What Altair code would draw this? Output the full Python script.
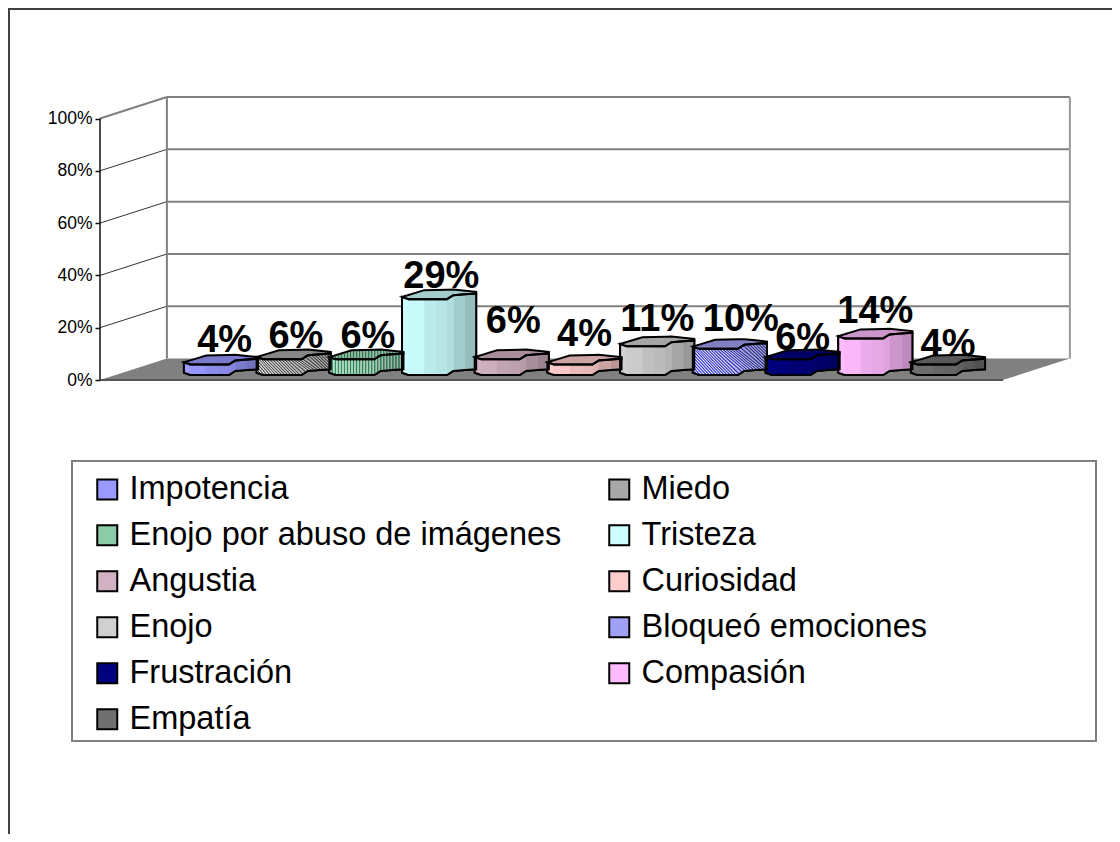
import altair as alt
import numpy as np
import pandas as pd

categories = ["Impotencia", "Miedo", "Enojo por abuso de imágenes", "Tristeza", "Angustia",
              "Curiosidad", "Enojo", "Bloqueó emociones", "Frustración", "Compasión", "Empatía"]
values = [4, 6, 6, 29, 6, 4, 11, 10, 6, 14, 4]
colors = ["#9999FF", "#A8A8A8", "#8CCBA8", "#CCFFFF", "#D2B2C2", "#FFCCCC",
          "#D0D0D0", "#A0A0F4", "#000080", "#FFBBFF", "#707070"]
y_ticks = [0, 20, 40, 60, 80, 100]
label_lift = [6.7, 6.2, 6.2, 6.2, 12.0, 8.9, 7.9, 8.9, 5.5, 7.7, 5.2]
label_shift = [0.05, 0.03, 0.02, 0.03, 0.02, 0, 0, 0.15, 0, 0, 0]
diagonal_hatch = {"Miedo": ("#F2F2F2", "#4A4A4A"), "Bloqueó emociones": ("#F0F0FF", "#2A2AD8")}
vertical_hatch = {"Enojo por abuso de imágenes": ("#D8F8E4", "#2F8A60")}

FONT = "Liberation Sans"
PAD_LEFT = 92
W, H = 1104 - PAD_LEFT, 826
X_STEP, X_FIRST = 72.7, 221.0
Y_UNIT, Y_ZERO = 2.615, 380.0
def cx(px): return (px - X_FIRST) / X_STEP
def vy(py): return (Y_ZERO - py) / Y_UNIT
x_scale = alt.Scale(domain=[cx(100), cx(100 + W)], nice=False, zero=False)
y_scale = alt.Scale(domain=[vy(8 + H), vy(8)], nice=False, zero=False)
X = lambda f="x": alt.X(f"{f}:Q", scale=x_scale, axis=None)
Y = lambda f="y": alt.Y(f"{f}:Q", scale=y_scale, title=None)

# 3-D box geometry, in scale units
DEPTH_X, DEPTH_Y = 0.92, 8.2
LEFT, RIGHT = cx(100), cx(1003)
BACK_L, BACK_R = LEFT + DEPTH_X, RIGHT + DEPTH_X

floor = pd.DataFrame({"x": [LEFT, BACK_L, RIGHT, BACK_R], "y": [0, DEPTH_Y, DEPTH_Y, DEPTH_Y],
                      "y2": [0, 0, 0, DEPTH_Y]})
floor_layer = alt.Chart(floor).mark_area(fill="#808080", opacity=1).encode(
    x=X(), y=Y(), y2="y2:Q")

rules = []
for v in y_ticks[1:]:
    top = v == 100
    rules.append(dict(x=BACK_L, x2=BACK_R, y=v + DEPTH_Y, y2=v + DEPTH_Y, c="#808080", w=2))
    rules.append(dict(x=LEFT, x2=BACK_L, y=v, y2=v + DEPTH_Y, c="#808080" if top else "#333333", w=2 if top else 1))
rules.append(dict(x=BACK_L, x2=BACK_L, y=DEPTH_Y, y2=100 + DEPTH_Y, c="#808080", w=2))
rules.append(dict(x=BACK_R, x2=BACK_R, y=DEPTH_Y, y2=100 + DEPTH_Y, c="#9A9A9A", w=2))
rules.append(dict(x=LEFT, x2=LEFT, y=0, y2=100, c="#111111", w=1.5))
rules.append(dict(x=LEFT, x2=RIGHT, y=0, y2=0, c="#555555", w=2))
rules.append(dict(x=cx(8), x2=cx(100 + W), y=vy(9), y2=vy(9), c="#404040", w=2))
rules.append(dict(x=cx(9), x2=cx(9), y=vy(8), y2=vy(8 + H), c="#404040", w=2))
rule_layer = alt.Chart(pd.DataFrame(rules)).mark_rule().encode(
    x=X(), x2="x2:Q", y=Y(), y2="y2:Q",
    color=alt.Color("c:N", scale=None),
    strokeWidth=alt.StrokeWidth("w:Q", scale=None))

axis_layer = alt.Chart(pd.DataFrame({"v": y_ticks})).mark_point(opacity=0).encode(
    x=alt.value(0),
    y=alt.Y("v:Q", scale=y_scale, title=None, axis=alt.Axis(
        values=y_ticks, labelExpr="datum.value + '%'", domain=False, grid=False,
        tickSize=5, tickColor="#111111", tickWidth=1.5, labelPadding=3,
        labelFont=FONT, labelFontSize=17.5, labelColor="#000000")))

box = pd.DataFrame({"x": [cx(72)], "x2": [cx(1096)], "y": [vy(461)], "y2": [vy(741)]})
box_layer = alt.Chart(box).mark_rect(fill="#FFFFFF", stroke="#808080", strokeWidth=2).encode(
    x=X(), x2="x2:Q", y=Y(), y2="y2:Q")

labels = pd.DataFrame({"x": np.arange(11) + np.array(label_shift),
                       "y": np.array(values) + np.array(label_lift),
                       "t": [f"{v}%" for v in values]})
label_layer = alt.Chart(labels).mark_text(
    font=FONT, fontSize=38, fontWeight="bold", color="#000000", align="center", baseline="alphabetic"
).encode(x=X(), y=Y(), text="t:N")

# low-polygon cylinder profile
HALF = 0.51
BASE = vy(375)
S = [0, .087, .3, .606, .692, .85, 1.0]
FRONT = np.array([2.3, 0, 0, 0, 4, 5, 5.7]) / Y_UNIT
BACK = np.array([2.3, 4.2, 9, 9.5, 9.7, 8.5, 7.3]) / Y_UNIT
EDGES = [0, .087, .3, .45, .606, .692, .85, 1.0]
SHADE = [1.0, .98, .92, .90, .87, .80, .74]

def mix(hex_color, k):
    r, g, b = int(hex_color[1:3], 16), int(hex_color[3:5], 16), int(hex_color[5:7], 16)
    return "#%02X%02X%02X" % (int(r * k), int(g * k), int(b * k))

sil, fac, top, stripes = [], [], [], []
for i, (name, val, col) in enumerate(zip(categories, values, colors)):
    left = i - HALF
    wid = 2 * HALF
    wpx = wid * X_STEP
    for s, f, b in zip(S, FRONT, BACK):
        sil.append(dict(category=name, x=left + s * wid, y=BASE + val + f, y2=BASE + f))
        top.append(dict(category=name, x=left + s * wid, y=BASE + val + b, y2=BASE + val + f, c=mix(col, .8)))
    for j in range(len(EDGES) - 1):
        for s in EDGES[j:j + 2]:
            f = np.interp(s, S, FRONT)
            fac.append(dict(facet=f"{i}-{j}", x=left + s * wid, y=BASE + val + f, y2=BASE + f, c=mix(col, SHADE[j])))
    if name in vertical_hatch:
        n = int(wpx / 1.5)
        for k in range(1, n):
            s = k / n
            f, b = np.interp(s, S, FRONT), np.interp(s, S, BACK)
            shade = np.interp(s, EDGES[:-1], SHADE)
            c = vertical_hatch[name][0 if k % 2 else 1]
            xx = left + s * wid
            stripes.append(dict(x=xx, x2=xx, y=BASE + val + f, y2=BASE + f, c=mix(c, shade)))
            stripes.append(dict(x=xx, x2=xx, y=BASE + val + b, y2=BASE + val + f, c=mix(c, .8)))
    if name in diagonal_hatch:
        rise = val * Y_UNIT / wpx   # hatch runs at 45 degrees across the body
        for k, sx in enumerate(np.arange(-rise, 1, 1.5 / wpx)):
            ex = sx + rise
            a, e = max(sx, 0), min(ex, 1)
            if e <= a:
                continue
            top_a = BASE + val + np.interp(sx if sx >= 0 else 0, S, FRONT)
            bot_e = BASE + np.interp(ex if ex <= 1 else 1, S, FRONT)
            ya = top_a - (a - sx) / rise * (top_a - bot_e)
            ye = top_a - (e - sx) / rise * (top_a - bot_e)
            shade = np.interp((a + e) / 2, EDGES[:-1], SHADE)
            c = diagonal_hatch[name][k % 2]
            stripes.append(dict(x=left + a * wid, x2=left + e * wid, y=ya, y2=ye, c=mix(c, shade)))

sil_layer = alt.Chart(pd.DataFrame(sil)).mark_area(stroke="#000000", strokeWidth=2, opacity=1).encode(
    x=X(), y=Y(), y2="y2:Q",
    fill=alt.Fill("category:N", scale=alt.Scale(domain=categories, range=colors), sort=categories,
                  legend=alt.Legend(
                      orient="none", legendX=-9, legendY=465, columns=2, direction="horizontal", title=None,
                      symbolType="square", symbolSize=400, symbolStrokeColor="#000000", symbolStrokeWidth=2,
                      labelFont=FONT, labelFontSize=32.5, labelColor="#000000", labelOffset=6, labelLimit=700,
                      columnPadding=41, rowPadding=13, padding=0)))
fac_layer = alt.Chart(pd.DataFrame(fac)).mark_area(opacity=1).encode(
    x=X(), y=Y(), y2="y2:Q", detail="facet:N", fill=alt.Fill("c:N", scale=None))
stripe_layer = alt.Chart(pd.DataFrame(stripes)).mark_rule(strokeWidth=1).encode(
    x=X(), x2="x2:Q", y=Y(), y2="y2:Q", color=alt.Color("c:N", scale=None))
outline_layer = alt.Chart(pd.DataFrame(sil)).mark_area(fill="transparent", stroke="#000000", strokeWidth=2).encode(
    x=X(), y=Y(), y2="y2:Q", detail="category:N")
top_df = pd.DataFrame(top)
top_fill = alt.Chart(top_df).mark_area(opacity=1).encode(
    x=X(), y=Y(), y2="y2:Q", detail="category:N", fill=alt.Fill("c:N", scale=None))
top_line = alt.Chart(top_df).mark_area(fill="transparent", stroke="#000000", strokeWidth=2).encode(
    x=X(), y=Y(), y2="y2:Q", detail="category:N")

chart = alt.layer(
    axis_layer, floor_layer, rule_layer, box_layer, label_layer,
    sil_layer, fac_layer, top_fill, stripe_layer, outline_layer, top_line,
).properties(
    width=W, height=H, padding={"left": PAD_LEFT, "top": 0, "right": 0, "bottom": 0},
    autosize=alt.AutoSizeParams(type="none"), background="#FFFFFF"
).configure_view(stroke=None).configure_axis(grid=False, domain=False)

chart.save("out.html", embed_options={"renderer": "svg", "actions": False})
